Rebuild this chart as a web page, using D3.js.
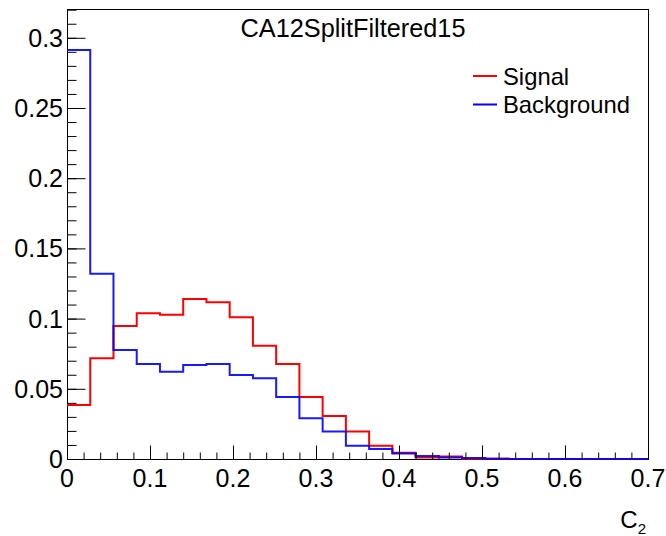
<!DOCTYPE html>
<html>
<head>
<meta charset="utf-8">
<script src="https://cdn.jsdelivr.net/npm/d3@7"></script>
<style>
  html, body { margin: 0; padding: 0; background: #fff; }
  svg { display: block; }
  text { font-family: "Liberation Sans", Arial, Helvetica, sans-serif; fill: #000; }
</style>
</head>
<body>
<svg id="chart" width="666" height="536"></svg>
<script>
// Histogram binning: 25 equal bins over [0, 0.7]
const binEdges = d3.range(26).map(i => i * 0.028);

// Normalised bin contents
const signalValues = [
  0.0385, 0.0717, 0.0947, 0.1038, 0.1028, 0.1140, 0.1116, 0.1009, 0.0807, 0.0677,
  0.0442, 0.0306, 0.0195, 0.0095, 0.0045, 0.0010, 0.0017, 0.0002, 0.0001, 0,
  0, 0, 0, 0, 0
];
const backgroundValues = [
  0.2913, 0.1320, 0.0776, 0.0677, 0.0622, 0.0670, 0.0677, 0.0598, 0.0575, 0.0442,
  0.0290, 0.0195, 0.0095, 0.0071, 0.0040, 0.0021, 0.0010, 0.0007, 0.0001, 0,
  0, 0, 0, 0, 0
];

const seriesNames = ["Signal", "Background"];
const seriesColors = ["#ff0000", "#0000ff"];
const titleText = "CA12SplitFiltered15";

const xMajorTicks = [0, 0.1, 0.2, 0.3, 0.4, 0.5, 0.6, 0.7];
const xMinorTicks = d3.range(0, 36).map(i => i * 0.02).filter(v => v <= 0.7001);
const yMajorTicks = [0, 0.05, 0.1, 0.15, 0.2, 0.25, 0.3];
const yMinorTicks = d3.range(0, 33).map(i => i * 0.01);

const svg = d3.select("#chart");
const frame = { left: 67, right: 648, top: 9, bottom: 459 };

const x = d3.scaleLinear().domain([0, 0.7]).range([frame.left, frame.right]);
const y = d3.scaleLinear().domain([0, 0.3205]).range([frame.bottom, frame.top]);

// Frame
svg.append("rect")
  .attr("x", frame.left + 0.5).attr("y", frame.top + 0.5)
  .attr("width", frame.right - frame.left).attr("height", frame.bottom - frame.top)
  .attr("fill", "none").attr("stroke", "#000").attr("stroke-width", 1);

// Step outline of a histogram
function stepPath(values) {
  const pts = [];
  values.forEach((v, i) => {
    pts.push([x(binEdges[i]), y(v)]);
    pts.push([x(binEdges[i + 1]), y(v)]);
  });
  return d3.line()(pts);
}

const histGroup = svg.append("g");
[signalValues, backgroundValues].forEach((vals, k) => {
  histGroup.append("path")
    .attr("d", stepPath(vals))
    .attr("fill", "none")
    .attr("stroke", seriesColors[k])
    .attr("stroke-width", 2)
    .attr("stroke-opacity", k === 1 ? 0.9 : 1);
});

// X axis ticks and labels
const xAxisG = svg.append("g").attr("transform", `translate(0,${frame.bottom + 0.5})`);
xAxisG.append("g")
  .call(d3.axisTop(x).tickValues(xMinorTicks).tickSize(7).tickFormat(""))
  .call(g => g.select(".domain").remove());
xAxisG.append("g")
  .call(d3.axisTop(x).tickValues(xMajorTicks).tickSize(14).tickFormat(""))
  .call(g => g.select(".domain").remove());
svg.append("g").selectAll("text")
  .data(xMajorTicks).join("text")
  .attr("x", d => x(d)).attr("y", 487)
  .attr("text-anchor", "middle")
  .attr("font-size", 25)
  .text(d => d3.format("")(d));

// Y axis ticks and labels
const yAxisG = svg.append("g").attr("transform", `translate(${frame.left + 0.5},0)`);
yAxisG.append("g")
  .call(d3.axisRight(y).tickValues(yMinorTicks).tickSize(9).tickFormat(""))
  .call(g => g.select(".domain").remove());
yAxisG.append("g")
  .call(d3.axisRight(y).tickValues(yMajorTicks).tickSize(18).tickFormat(""))
  .call(g => g.select(".domain").remove());
svg.selectAll(".tick line").attr("stroke", "#000");
svg.append("g").selectAll("text")
  .data(yMajorTicks).join("text")
  .attr("x", 63).attr("y", d => y(d) + 9)
  .attr("text-anchor", "end")
  .attr("font-size", 25)
  .text(d => d3.format("")(d));

// Axis title C₂
const xt = svg.append("text").attr("x", 646).attr("y", 528)
  .attr("text-anchor", "end").attr("font-size", 24);
xt.append("tspan").text("C");
xt.append("tspan").attr("font-size", 15).attr("dy", 6).text("2");

// Title
svg.append("text")
  .attr("x", 353).attr("y", 37)
  .attr("text-anchor", "middle")
  .attr("font-size", 25.3)
  .text(titleText);

// Legend
const legend = svg.append("g");
seriesNames.forEach((name, k) => {
  const ly = 76 + k * 28.5;
  legend.append("line")
    .attr("x1", 473).attr("x2", 497)
    .attr("y1", ly).attr("y2", ly)
    .attr("stroke", seriesColors[k]).attr("stroke-width", 2);
  legend.append("text")
    .attr("x", 503).attr("y", ly + 8.5)
    .attr("font-size", 23.8)
    .text(name);
});
</script>
</body>
</html>
